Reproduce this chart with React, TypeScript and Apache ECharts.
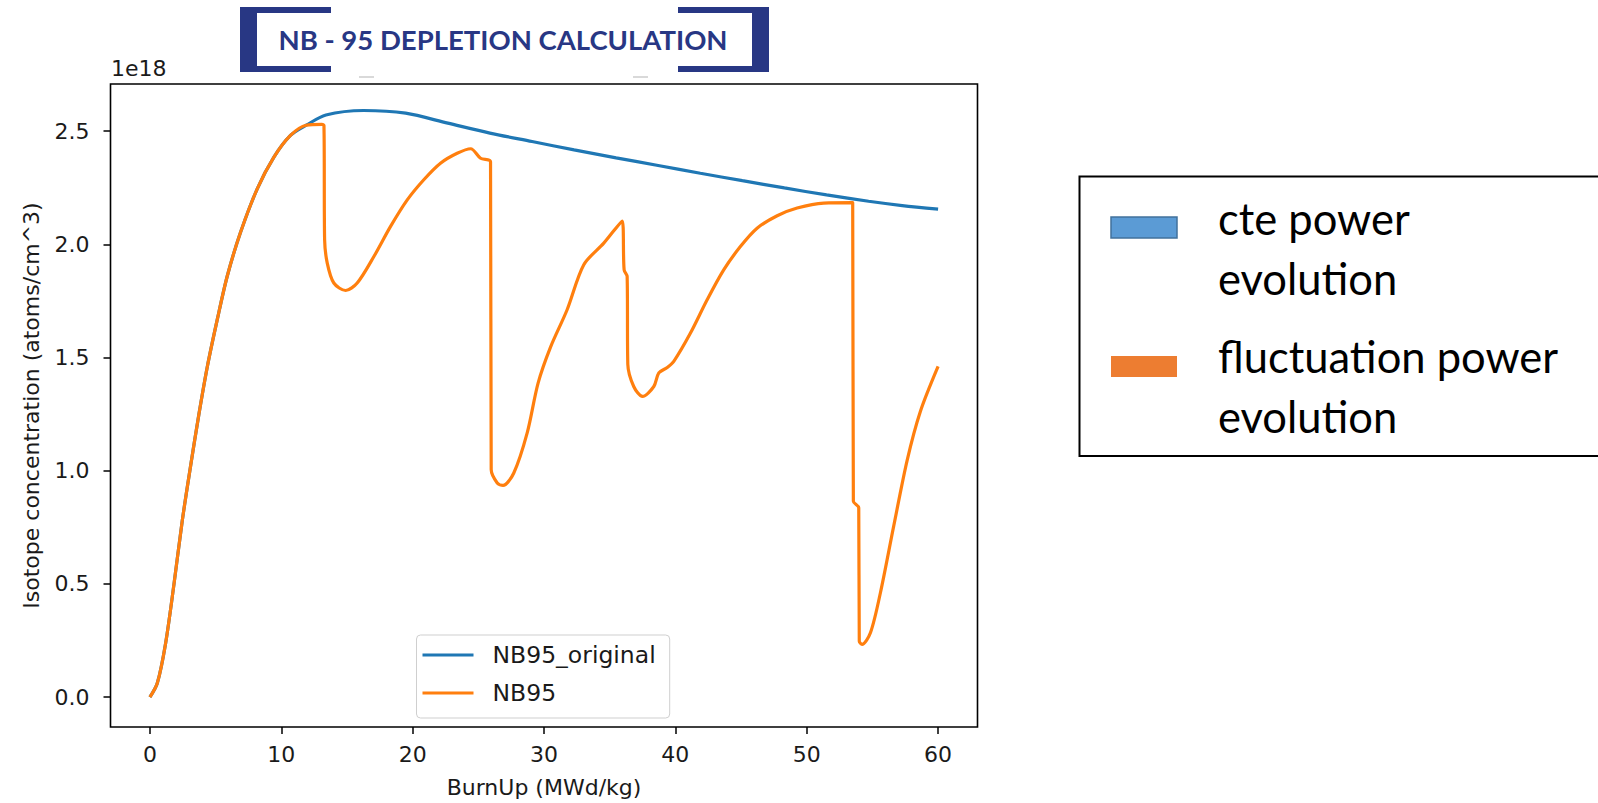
import React, { useEffect, useRef } from "react";
import * as echarts from "echarts";

// ---- data (values in units of 1e18 atoms/cm^3) ----
const xTicks = [0, 10, 20, 30, 40, 50, 60];
const yTicks = [0, 0.5, 1.0, 1.5, 2.0, 2.5];

const originalName = "NB95_original";
const fluctName = "NB95";

const originalX = [
  0, 0.56, 1.19, 1.83, 2.46, 3.1, 3.73, 4.37, 5.13, 5.89, 6.9, 8.17, 9.44, 10.7,
  11.9, 13.4, 16.27, 19.47, 22.68, 25.88, 29.09, 32.29, 35.49, 38.69, 41.9,
  45.1, 48.3, 51.51, 54.71, 57.27, 60,
];
const originalY = [
  0, 0.061, 0.236, 0.498, 0.778, 1.022, 1.249, 1.459, 1.668, 1.86, 2.053, 2.245,
  2.385, 2.481, 2.526, 2.571, 2.591, 2.579, 2.535, 2.491, 2.454, 2.417, 2.382,
  2.348, 2.314, 2.281, 2.249, 2.218, 2.19, 2.171, 2.155,
];

const fluctX = [
  0, 0.56, 1.19, 1.83, 2.46, 3.1, 3.73, 4.37, 5.13, 5.89, 6.9, 8.17, 9.44, 10.7,
  11.9, 13.1, 13.25, 13.3, 13.5, 14.0, 14.9, 15.78, 17.05, 18.32, 19.59, 20.85,
  22.12, 23.39, 24.42, 25.17, 25.93, 25.98, 26.44, 26.88, 27.7, 28.72, 29.55,
  30.49, 31.76, 33.03, 34.55, 35.95, 36.1, 36.33, 36.38, 36.83, 37.5, 38.36,
  38.74, 39.38, 39.88, 41.15, 42.42, 43.68, 44.95, 46.22, 47.75, 49.27, 51.3,
  53.5, 53.55, 53.96, 54.0, 54.21, 54.85, 55.61, 56.62, 57.64, 58.65, 60,
];
const fluctY = [
  0, 0.061, 0.236, 0.498, 0.778, 1.022, 1.249, 1.459, 1.668, 1.86, 2.053, 2.245,
  2.385, 2.481, 2.526, 2.53, 2.525, 2.02, 1.917, 1.829, 1.796, 1.829, 1.946,
  2.079, 2.196, 2.285, 2.358, 2.402, 2.422, 2.38, 2.365, 1.005, 0.946, 0.935,
  0.99, 1.167, 1.387, 1.545, 1.711, 1.91, 2.005, 2.103, 1.887, 1.858, 1.47,
  1.372, 1.328, 1.372, 1.432, 1.456, 1.483, 1.608, 1.755, 1.887, 1.99, 2.071,
  2.126, 2.16, 2.182, 2.184, 0.865, 0.836, 0.247, 0.233, 0.284, 0.461, 0.755,
  1.045, 1.262, 1.461,
];

const titleText = "NB - 95 DEPLETION CALCULATION";
const exponentText = "1e18";
const xAxisName = "BurnUp (MWd/kg)";
const yAxisName = "Isotope concentration (atoms/cm^3)";
const noteLines1 = ["cte power", "evolution"];
const noteLines2 = ["fluctuation power", "evolution"];

const MPL = '"DejaVu Sans", sans-serif';
const OFFICE = 'Lato, "Open Sans", sans-serif';
const NAVY = "#283784";
const BLUE = "#1f77b4";
const ORANGE = "#ff7f0e";

export default function App() {
  const ref = useRef<HTMLDivElement>(null);

  useEffect(() => {
    if (!ref.current) return;
    const chart = echarts.init(ref.current, undefined, { renderer: "svg" });

    const originalData = originalX.map((x, i) => [x, originalY[i]]);
    const fluctData = fluctX.map((x, i) => [x, fluctY[i]]);

    const tickStyle = { color: "#000", width: 1.5 };
    const labelStyle = { fontSize: 22, fontFamily: MPL, color: "#1a1a1a" };

    const option: any = {
      animation: false,
      backgroundColor: "#ffffff",
      grid: {
        left: 110.5,
        top: 84,
        width: 867,
        height: 643.7,
        show: true,
        borderColor: "#000",
        borderWidth: 1.6,
        backgroundColor: "transparent",
        containLabel: false,
      },
      xAxis: {
        type: "value",
        min: -3,
        max: 63,
        splitLine: { show: false },
        axisLine: { show: false, onZero: false },
        axisTick: { show: true, length: 7, lineStyle: tickStyle, customValues: xTicks },
        axisLabel: {
          ...labelStyle,
          margin: 16,
          customValues: xTicks,
          formatter: (v: number) => String(v),
        },
        name: xAxisName,
        nameLocation: "middle",
        nameGap: 49,
        nameTextStyle: labelStyle,
      },
      yAxis: {
        type: "value",
        min: -0.132,
        max: 2.708,
        splitLine: { show: false },
        axisLine: { show: false, onZero: false },
        axisTick: { show: true, length: 7, lineStyle: tickStyle, customValues: yTicks },
        axisLabel: {
          ...labelStyle,
          margin: 21,
          customValues: yTicks,
          formatter: (v: number) => v.toFixed(1),
        },
        name: yAxisName,
        nameLocation: "middle",
        nameGap: 68,
        nameTextStyle: labelStyle,
      },
      legend: {
        orient: "vertical",
        left: 416.5,
        top: 635,
        padding: [8, 14, 13, 6],
        itemWidth: 51,
        itemHeight: 3,
        itemGap: 14,
        icon: "rect",
        borderColor: "#cfcfcf",
        borderWidth: 1,
        borderRadius: 4,
        backgroundColor: "rgba(255,255,255,0.8)",
        formatter: (name: string) => `{gap|}{t|${name}}`,
        textStyle: {
          fontSize: 23.5,
          fontFamily: MPL,
          color: "#1a1a1a",
          rich: {
            gap: { width: 14 },
            t: { fontSize: 23.5, fontFamily: MPL, color: "#1a1a1a" },
          },
        },
        data: [originalName, fluctName],
      },
      series: [
        {
          name: originalName,
          type: "line",
          data: originalData,
          showSymbol: false,
          symbol: "none",
          smooth: 0.3,
          color: BLUE,
          lineStyle: { color: BLUE, width: 3.2 },
          z: 2,
        },
        {
          name: fluctName,
          type: "line",
          data: fluctData,
          showSymbol: false,
          symbol: "none",
          smooth: 0.3,
          color: ORANGE,
          lineStyle: { color: ORANGE, width: 3.2, join: "round" },
          z: 3,
        },
      ],
      graphic: {
        elements: [
          // title brackets
          { type: "rect", shape: { x: 240, y: 7, width: 17, height: 65 }, style: { fill: NAVY } },
          { type: "rect", shape: { x: 240, y: 7, width: 91, height: 6 }, style: { fill: NAVY } },
          { type: "rect", shape: { x: 240, y: 66, width: 91, height: 6 }, style: { fill: NAVY } },
          { type: "rect", shape: { x: 752, y: 7, width: 17, height: 65 }, style: { fill: NAVY } },
          { type: "rect", shape: { x: 678, y: 7, width: 91, height: 6 }, style: { fill: NAVY } },
          { type: "rect", shape: { x: 678, y: 66, width: 91, height: 6 }, style: { fill: NAVY } },
          { type: "rect", shape: { x: 359, y: 76, width: 15, height: 2 }, style: { fill: "#d9d9d9" } },
          { type: "rect", shape: { x: 633, y: 76, width: 15, height: 2 }, style: { fill: "#d9d9d9" } },
          {
            type: "text",
            style: {
              text: titleText,
              x: 503,
              y: 39,
              textAlign: "center",
              textVerticalAlign: "middle",
              fontSize: 27.5,
              fontWeight: "bold",
              fontFamily: OFFICE,
              fill: NAVY,
            },
          },
          // exponent label
          {
            type: "text",
            style: {
              text: exponentText,
              x: 111,
              y: 68,
              textAlign: "left",
              textVerticalAlign: "middle",
              fontSize: 22,
              fontFamily: MPL,
              fill: "#1a1a1a",
            },
          },
          // right note box
          {
            type: "rect",
            shape: { x: 1079.5, y: 176.5, width: 530, height: 279.5 },
            style: { fill: "#fff", stroke: "#000", lineWidth: 2 },
          },
          {
            type: "rect",
            shape: { x: 1111, y: 217, width: 66, height: 21 },
            style: { fill: "#5b9bd5", stroke: "#41719c", lineWidth: 1.5 },
          },
          {
            type: "rect",
            shape: { x: 1111, y: 356, width: 66, height: 21 },
            style: { fill: "#ed7d31" },
          },
          ...[
            [noteLines1[0], 217.6],
            [noteLines1[1], 278],
            [noteLines2[0], 355.7],
            [noteLines2[1], 416.3],
          ].map(([t, y]) => ({
            type: "text",
            style: {
              text: t as string,
              x: 1218,
              y: y as number,
              textAlign: "left",
              textVerticalAlign: "middle",
              fontSize: 43.5,
              fontFamily: OFFICE,
              fill: "#000",
            },
          })),
        ],
      },
    };

    chart.setOption(option);
    return () => chart.dispose();
  }, []);

  return (
    <div
      ref={ref}
      style={{ position: "fixed", left: 0, top: 0, width: 1598, height: 803, background: "#fff" }}
    />
  );
}
